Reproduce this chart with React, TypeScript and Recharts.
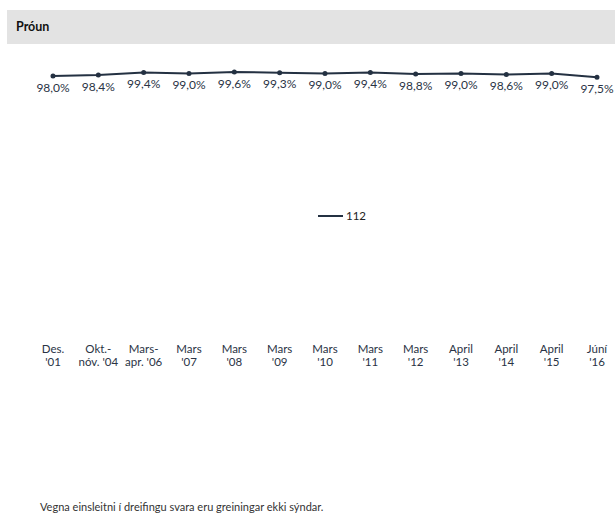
import React from 'react';
import { LineChart, Line, XAxis, YAxis, LabelList, Legend } from 'recharts';

const categories = [
  "Des.|'01",
  "Okt.-|nóv. '04",
  "Mars-|apr. '06",
  "Mars|'07",
  "Mars|'08",
  "Mars|'09",
  "Mars|'10",
  "Mars|'11",
  "Mars|'12",
  "April|'13",
  "April|'14",
  "April|'15",
  "Júní|'16",
];
const values112 = [98.0, 98.4, 99.4, 99.0, 99.6, 99.3, 99.0, 99.4, 98.8, 99.0, 98.6, 99.0, 97.5];
const seriesName = '112';

const data = categories.map((c, i) => ({ cat: c, v: values112[i] }));

const FONT = 'Lato, "Open Sans", sans-serif';
const LINE_COLOR = '#243142';
const TEXT_COLOR = '#2a3345';

const Tick = (props: any) => {
  const { x, y, payload } = props;
  const [a, b] = String(payload.value).split('|');
  return (
    <text x={x} y={y} textAnchor="middle" fill={TEXT_COLOR} fontFamily={FONT} fontSize={11.5}>
      <tspan x={x} dy={23}>{a}</tspan>
      <tspan x={x} dy={13}>{b}</tspan>
    </text>
  );
};

const LegendContent = () => (
  <div style={{ display: 'flex', alignItems: 'center', fontFamily: FONT, fontSize: 11.5, color: '#222' }}>
    <svg width={25} height={10}>
      <line x1={0} y1={5} x2={25} y2={5} stroke={LINE_COLOR} strokeWidth={2} />
    </svg>
    <span style={{ marginLeft: 3 }}>{seriesName}</span>
  </div>
);

export default function App() {
  return (
    <div style={{ position: 'absolute', left: 0, top: 0, width: 615, height: 532, background: '#fff', overflow: 'hidden' }}>
      <div
        style={{
          position: 'absolute',
          left: 7,
          top: 10,
          width: 608,
          height: 34,
          background: '#e3e3e3',
        }}
      />
      <div
        style={{
          position: 'absolute',
          left: 16,
          top: 19,
          fontFamily: FONT,
          fontWeight: 700,
          fontSize: 12.5,
          color: '#111',
        }}
      >
        Próun
      </div>
      <div style={{ position: 'absolute', left: 0, top: 0 }}>
        <LineChart width={615} height={380} data={data} margin={{ top: 71, right: 0, bottom: 5, left: 31 }}>
          <XAxis
            dataKey="cat"
            axisLine={false}
            tickLine={false}
            interval={0}
            height={40}
            padding={{ left: 22, right: 18 }}
            tick={<Tick />}
          />
          <YAxis hide domain={[0, 100]} />
          <Legend
            content={<LegendContent />}
            wrapperStyle={{ position: 'absolute', left: 318, top: 209, width: 60 }}
          />
          <Line
            type="linear"
            dataKey="v"
            name={seriesName}
            stroke={LINE_COLOR}
            strokeWidth={2}
            dot={{ r: 1.5, fill: LINE_COLOR, stroke: LINE_COLOR }}
            isAnimationActive={false}
          >
            <LabelList
              dataKey="v"
              position="bottom"
              offset={7}
              formatter={(v: any) => Number(v).toFixed(1).replace('.', ',') + '%'}
              fill={TEXT_COLOR}
              fontFamily={FONT}
              fontSize={12}
            />
          </Line>
        </LineChart>
      </div>
      <div
        style={{
          position: 'absolute',
          left: 40,
          top: 500,
          fontFamily: FONT,
          fontSize: 11,
          color: '#333',
        }}
      >
        Vegna einsleitni í dreifingu svara eru greiningar ekki sýndar.
      </div>
    </div>
  );
}
